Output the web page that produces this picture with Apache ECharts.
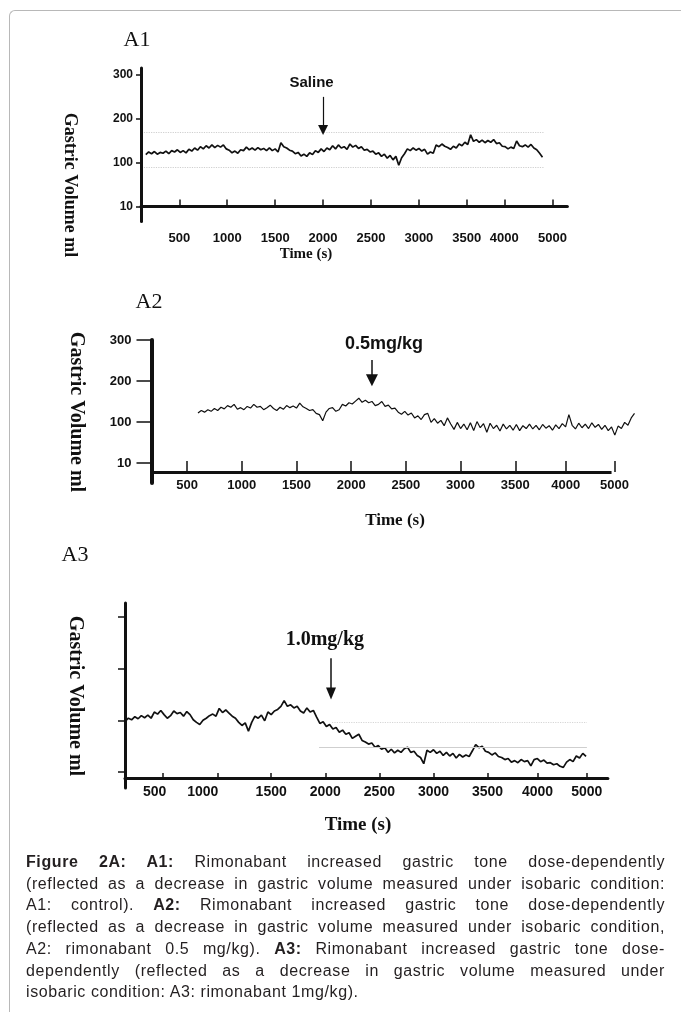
<!DOCTYPE html>
<html><head><meta charset="utf-8">
<script src="https://cdn.jsdelivr.net/npm/echarts@6/dist/echarts.min.js"></script>
<style>
html,body{margin:0;padding:0;background:#fff;overflow:hidden;}
#frame{position:absolute;left:9px;top:10px;width:740px;height:1100px;border-left:1.5px solid #b8b8b8;border-top:1.5px solid #b8b8b8;border-top-left-radius:6px;}
#chart{position:absolute;left:0;top:0;width:681px;height:1012px;}
#caption{position:absolute;left:26px;top:851px;width:639px;font-family:'Liberation Sans',Arial,sans-serif;font-size:16px;line-height:21.7px;color:#231f20;letter-spacing:0.6px;}
#caption div{text-align:justify;text-align-last:justify;}
#caption div.last{text-align-last:left;}
</style></head>
<body>
<div id="frame"></div>
<div id="chart"></div>
<div id="caption">
<div><b>Figure 2A: A1:</b> Rimonabant increased gastric tone dose-dependently</div>
<div>(reflected as a decrease in gastric volume measured under isobaric condition:</div>
<div>A1: control). <b>A2:</b> Rimonabant increased gastric tone dose-dependently</div>
<div>(reflected as a decrease in gastric volume measured under isobaric condition,</div>
<div>A2: rimonabant 0.5 mg/kg). <b>A3:</b> Rimonabant increased gastric tone dose-</div>
<div>dependently (reflected as a decrease in gastric volume measured under</div>
<div class="last">isobaric condition: A3: rimonabant 1mg/kg).</div>
</div>
<script>
// ---- data (time in s, gastric volume in ml as plotted) ----
const a1Start = 150, a1Step = 30;
const a1Volume = [
118,124,120,125,119,123,121,126,120,127,
124,129,123,127,122,130,126,133,128,136,
131,138,133,140,134,139,135,140,131,128,
122,126,121,129,127,135,129,133,128,134,
129,132,127,133,127,131,124,145,136,133,
128,126,120,123,115,119,114,122,118,127,
123,131,125,133,129,138,131,140,133,136,
130,142,135,139,132,136,128,130,124,126,
119,122,114,119,110,116,106,114,94,111,
120,131,127,133,128,132,126,130,119,124,
121,140,136,142,137,134,130,137,133,142,
138,146,141,163,148,152,146,151,145,150,
146,152,143,145,137,136,131,135,132,149,
138,136,140,135,141,133,129,121,112];

const a2Start = 600, a2Step = 30;
const a2Volume = [
122,128,124,130,126,133,128,136,132,140,
136,143,131,135,130,138,134,143,136,138,
130,135,141,133,128,136,131,140,135,139,
134,146,137,133,128,130,121,118,103,124,
133,135,126,130,143,139,147,144,151,158,
148,153,147,150,140,143,150,138,141,132,
134,124,119,126,117,122,110,115,106,118,
121,99,108,97,104,91,110,95,82,99,
84,95,81,98,79,101,86,96,75,97,
84,92,78,95,83,92,80,94,79,91,
84,95,83,92,81,94,85,91,80,93,
84,96,88,118,92,83,97,86,95,84,
98,87,94,82,92,79,88,68,90,84,
99,92,110,121];

const a3Start = 150, a3Step = 30;
const a3Volume = [
98,104,101,107,103,109,105,110,104,116,
112,119,111,104,109,118,113,115,108,117,
111,101,96,92,100,104,109,112,108,123,
115,120,114,108,104,96,90,95,79,96,
108,104,110,99,116,111,118,121,127,138,
127,130,124,127,118,114,124,116,119,106,
94,97,88,92,83,86,77,81,73,76,
65,69,73,61,58,54,56,48,51,44,
47,38,44,37,42,38,45,48,38,40,
32,28,16,42,38,43,36,40,32,38,
31,36,27,34,29,33,30,41,53,47,
50,40,38,33,37,30,28,24,26,19,
22,18,24,20,22,12,24,26,20,23,
17,18,14,16,11,9,19,24,20,31,
27,36,30];

// tick positions (in axis units) and their printed labels
const a1XTickPos = [500,1000,1500,2000,2500,3000,3500,3891,4394];
const a1XTickText = ['500','1000','1500','2000','2500','3000','3500','4000','5000'];
const a2XTickPos = [500,1000,1500,2000,2500,3000,3500,3962,4407];
const a2XTickText = ['500','1000','1500','2000','2500','3000','3500','4000','5000'];
const a2AxisSpan = [175, 4380], a2AxisLevel = -22;
const a3XTickPos = [498,1005,1500,2000,2500,3000,3500,3962,4417];
const a3XLabelPos = [423,868,1500,2000,2500,3000,3500,3962,4417];
const a3XLabelText = ['500','1000','1500','2000','2500','3000','3500','4000','5000'];
const yTickPos = [0,100,200,300];
const yTickText = ['10','100','200','300'];

// annotations
const a1Ref = [168, 89], a1RefSpan = [130, 4302];
const a3Ref = [{v:97, from:2062, to:4418, type:'dotted', color:'#d6d6d6'}, {v:48, from:1942, to:4418, type:'solid', color:'#cfcfcf'}];
const a1Arrow = {t:2000, top:249, tip:174, label:'Saline', lt:1880, lv:281};
const a2Arrow = {t:2190, top:251, tip:202, label:'0.5mg/kg', lt:2300, lv:291};
const a3Arrow = {t:2053, top:220, tip:152, label:'1.0mg/kg', lt:1996, lv:255};

const pairs = (s, st, vals) => vals.map((v, i) => [s + i * st, v]);
const lab = (pos, txt) => v => { const i = pos.indexOf(v); return i < 0 ? '' : txt[i]; };

const SANS = "'Liberation Sans', Arial, sans-serif";
const SERIF = "'Liberation Serif', 'Times New Roman', serif";
const INK = '#111';

function arrowLine(a, size) {
  return [{coord:[a.t, a.top], symbol:'none'}, {coord:[a.t, a.tip], symbol:'triangle', symbolSize:size}];
}
function arrowText(a, fs, fam) {
  return {coord:[a.lt, a.lv], symbol:'rect', symbolSize:0,
    label:{show:true, position:'inside', formatter:a.label, color:INK, fontSize:fs, fontWeight:'bold', fontFamily:fam}};
}

const chart = echarts.init(document.getElementById('chart'), null, {renderer:'canvas'});
const baseX = (min, max, ticks, labelPos, labelText, fs, margin, tickLen, lineW) => ({
  type:'value', min, max, splitLine:{show:false},
  axisLine:{show:true, lineStyle:{color:INK, width:lineW}},
  axisTick:{show:true, inside:true, length:tickLen, customValues:ticks, lineStyle:{color:INK, width:1.5}},
  axisLabel:{show:true, customValues:labelPos, formatter:lab(labelPos, labelText), color:INK, fontSize:fs, fontWeight:'bold', fontFamily:SANS, margin}
});
const baseY = (min, max, showLabels, fs, margin, tickLen, lineW) => ({
  type:'value', min, max, splitLine:{show:false},
  axisLine:{show:true, onZero:false, lineStyle:{color:INK, width:lineW}},
  axisTick:{show:true, inside:false, length:tickLen, customValues:yTickPos, lineStyle:{color:INK, width:1.5}},
  axisLabel:{show:showLabels, customValues:yTickPos, formatter:lab(yTickPos, yTickText), color:INK, fontSize:fs, fontWeight:'bold', fontFamily:SANS, margin}
});

const x1 = baseX(100, 4550, a1XTickPos, a1XTickPos, a1XTickText, 13, 10, 7, 3);
const x2 = baseX(175, 4610, a2XTickPos, a2XTickPos, a2XTickText, 13, 7, 11, 3);
x2.axisLine.show = false; x2.axisLine.onZero = false; x2.offset = -11; x2.gridIndex = 1;
const x3 = baseX(149, 4612, a3XTickPos, a3XLabelPos, a3XLabelText, 14, 7, 5, 3);
x3.axisLine.onZero = false; x3.offset = -10; x3.gridIndex = 2;

const y1 = baseY(-34, 314.5, true, 12, 8, 5, 3);
const y2 = baseY(-48.8, 300, true, 13, 20, 15, 4); y2.gridIndex = 1;
const y3 = baseY(-31, 327, false, 12, 8, 7, 3); y3.gridIndex = 2;

const traceStyle = {color:INK, width:1.7};
const option = {
  animation:false,
  grid:[
    {left:141, top:68, width:426.4, height:153.6},
    {left:151.5, top:340, width:485.2, height:143},
    {left:125, top:603, width:482.9, height:185}
  ],
  xAxis:[x1, x2, x3],
  yAxis:[y1, y2, y3],
  series:[
    {type:'line', xAxisIndex:0, yAxisIndex:0, data:pairs(a1Start, a1Step, a1Volume), showSymbol:false, lineStyle:traceStyle, silent:true,
      markLine:{silent:true, symbol:'none', label:{show:false},
        data:[
          [{coord:[a1RefSpan[0], a1Ref[0]], lineStyle:{type:'dotted', color:'#cfcfcf', width:1.2}}, {coord:[a1RefSpan[1], a1Ref[0]]}],
          [{coord:[a1RefSpan[0], a1Ref[1]], lineStyle:{type:'dotted', color:'#cfcfcf', width:1.2}}, {coord:[a1RefSpan[1], a1Ref[1]]}],
          arrowLine(a1Arrow, [10,10])
        ], lineStyle:{color:INK, width:1.2, type:'solid'}},
      markPoint:{silent:true, data:[arrowText(a1Arrow, 15, SANS)]}},
    {type:'line', xAxisIndex:1, yAxisIndex:1, data:pairs(a2Start, a2Step, a2Volume), showSymbol:false, lineStyle:{color:INK, width:1.2}, silent:true,
      markLine:{silent:true, symbol:'none', label:{show:false}, lineStyle:{color:INK, width:1.5, type:'solid'},
        data:[
          [{coord:[a2AxisSpan[0], a2AxisLevel], lineStyle:{color:INK, width:3}}, {coord:[a2AxisSpan[1], a2AxisLevel]}],
          arrowLine(a2Arrow, [12,12])
        ]},
      markPoint:{silent:true, data:[arrowText(a2Arrow, 18, SANS)]}},
    {type:'line', xAxisIndex:2, yAxisIndex:2, data:pairs(a3Start, a3Step, a3Volume), showSymbol:false, lineStyle:traceStyle, silent:true,
      markLine:{silent:true, symbol:'none', label:{show:false}, lineStyle:{color:INK, width:1.5, type:'solid'},
        data:a3Ref.map(r => [{coord:[r.from, r.v], lineStyle:{type:r.type, color:r.color, width:1.2}}, {coord:[r.to, r.v]}]).concat([arrowLine(a3Arrow, [10,12])])},
      markPoint:{silent:true, data:[arrowText(a3Arrow, 20, SERIF)]}}
  ],
  graphic:[
    {type:'text', x:137, y:40, style:{text:'A1', x:0, y:0, align:'center', verticalAlign:'middle', font:'22px ' + SERIF, fill:INK}},
    {type:'text', x:149, y:302, style:{text:'A2', x:0, y:0, align:'center', verticalAlign:'middle', font:'22px ' + SERIF, fill:INK}},
    {type:'text', x:75, y:555, style:{text:'A3', x:0, y:0, align:'center', verticalAlign:'middle', font:'22px ' + SERIF, fill:INK}},
    {type:'text', x:306, y:254, style:{text:'Time (s)', x:0, y:0, align:'center', verticalAlign:'middle', font:'bold 15px ' + SERIF, fill:INK}},
    {type:'text', x:395, y:521, style:{text:'Time (s)', x:0, y:0, align:'center', verticalAlign:'middle', font:'bold 17px ' + SERIF, fill:INK}},
    {type:'text', x:358, y:825, style:{text:'Time (s)', x:0, y:0, align:'center', verticalAlign:'middle', font:'bold 19px ' + SERIF, fill:INK}},
    {type:'text', x:70, y:185, rotation:-Math.PI/2, style:{text:'Gastric Volume ml', x:0, y:0, align:'center', verticalAlign:'middle', font:'bold 18px ' + SERIF, fill:INK}},
    {type:'text', x:76, y:412, rotation:-Math.PI/2, style:{text:'Gastric Volume ml', x:0, y:0, align:'center', verticalAlign:'middle', font:'bold 20px ' + SERIF, fill:INK}},
    {type:'text', x:75, y:696, rotation:-Math.PI/2, style:{text:'Gastric Volume ml', x:0, y:0, align:'center', verticalAlign:'middle', font:'bold 20px ' + SERIF, fill:INK}}
  ]
};
chart.setOption(option);
</script>
</body></html>
